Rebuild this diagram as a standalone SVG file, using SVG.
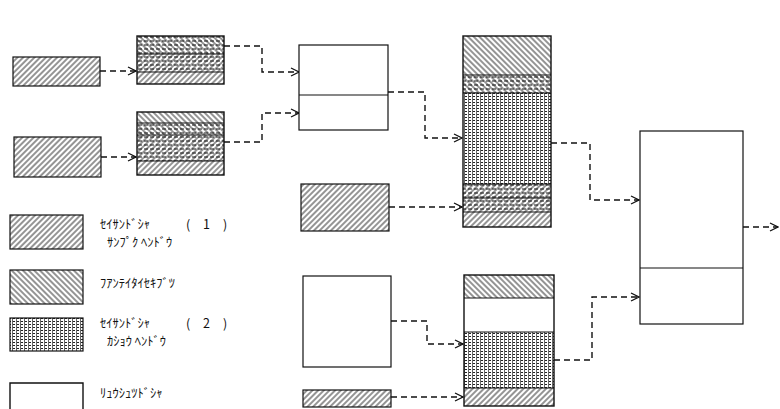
<svg xmlns="http://www.w3.org/2000/svg" width="780" height="409" viewBox="0 0 780 409">
<style>
.b{stroke:#111;stroke-width:1.4;fill:none}
.ln{stroke:#111;stroke-width:1.2}
.c{stroke:#111;stroke-width:1.4;fill:none;stroke-dasharray:6 4;marker-end:url(#ar)}
.t{font-family:"Noto Sans CJK JP","Noto Sans",sans-serif;font-size:12.5px;fill:#111}
</style>
<defs>
<pattern id="h1" width="4" height="4" patternUnits="userSpaceOnUse" patternTransform="rotate(45)"><line x1="1" y1="0" x2="1" y2="4" stroke="#111" stroke-width="0.9"/></pattern>
<pattern id="an" width="4" height="4" patternUnits="userSpaceOnUse" patternTransform="rotate(-45)"><line x1="1" y1="0" x2="1" y2="4" stroke="#111" stroke-width="0.9"/></pattern>
<pattern id="hd" width="6" height="4" patternUnits="userSpaceOnUse"><line x1="0" y1="1" x2="4" y2="1" stroke="#111" stroke-width="1"/></pattern>
<pattern id="gr" width="4" height="3" patternUnits="userSpaceOnUse"><rect x="0" y="0" width="3" height="1" fill="#222"/><rect x="0" y="0" width="1" height="3" fill="#666"/></pattern>
<marker id="ar" viewBox="0 0 10 10" refX="9" refY="5" markerWidth="10" markerHeight="10" markerUnits="userSpaceOnUse" orient="auto"><path d="M1,1 L9,5 L1,9" fill="none" stroke="#111" stroke-width="1.3"/></marker>
</defs>
<rect width="780" height="409" fill="#fff"/>

<g id="connectors">
<path class="c" d="M100,71 H136"/>
<path class="c" d="M101,157 H136"/>
<path class="c" d="M224,46 H262 V72 H299"/>
<path class="c" d="M224,142 H262 V113 H299"/>
<path class="c" d="M388,92 H425 V138 H462"/>
<path class="c" d="M389,207 H462"/>
<path class="c" d="M391,321 H427 V344 H463"/>
<path class="c" d="M391,397 H463"/>
<path class="c" d="M551,143 H590 V200 H639"/>
<path class="c" d="M554,360 H592 V297 H639"/>
<path class="c" d="M743,227 H778"/>
</g>

<g id="s1"><rect x="13" y="57" width="87" height="29" fill="url(#h1)" class="ln"/></g>
<g id="s2"><rect x="14" y="137" width="87" height="40" fill="url(#h1)" class="ln"/></g>

<g id="A">
<rect x="137" y="36" width="87" height="18" fill="url(#an)"/>
<rect x="137" y="36" width="87" height="18" fill="url(#hd)"/>
<rect x="137" y="54" width="87" height="18" fill="url(#h1)"/>
<rect x="137" y="54" width="87" height="18" fill="url(#hd)"/>
<rect x="137" y="72" width="87" height="12" fill="url(#h1)"/>
<line x1="137" y1="54" x2="224" y2="54" class="ln"/>
<line x1="137" y1="72" x2="224" y2="72" class="ln"/>
<rect x="137" y="36" width="87" height="48" class="b"/>
</g>

<g id="B">
<rect x="137" y="112" width="87" height="11" fill="url(#an)"/>
<rect x="137" y="123" width="87" height="12" fill="url(#an)"/>
<rect x="137" y="123" width="87" height="12" fill="url(#hd)"/>
<rect x="137" y="135" width="87" height="26" fill="url(#h1)"/>
<rect x="137" y="135" width="87" height="26" fill="url(#hd)"/>
<rect x="137" y="161" width="87" height="14" fill="url(#h1)"/>
<line x1="137" y1="123" x2="224" y2="123" class="ln"/>
<line x1="137" y1="135" x2="224" y2="135" class="ln"/>
<line x1="137" y1="161" x2="224" y2="161" class="ln"/>
<rect x="137" y="112" width="87" height="63" class="b"/>
</g>

<g id="C">
<rect x="299" y="45" width="89" height="85" fill="#fff" class="ln"/>
<line x1="299" y1="95" x2="388" y2="95" class="ln"/>
</g>

<g id="G"><rect x="301" y="184" width="88" height="47" fill="url(#h1)" class="ln"/></g>
<g id="F"><rect x="303" y="276" width="88" height="91" fill="#fff" class="ln"/></g>
<g id="H"><rect x="303" y="390" width="88" height="17" fill="url(#h1)" class="ln"/></g>

<g id="D">
<rect x="463" y="36" width="88" height="39" fill="url(#an)"/>
<rect x="463" y="75" width="88" height="18" fill="url(#an)"/>
<rect x="463" y="75" width="88" height="18" fill="url(#hd)"/>
<rect x="463" y="93" width="88" height="91" fill="url(#gr)"/>
<rect x="463" y="184" width="88" height="28" fill="url(#h1)"/>
<rect x="463" y="184" width="88" height="28" fill="url(#hd)"/>
<rect x="463" y="212" width="88" height="15" fill="url(#h1)"/>
<line x1="463" y1="75" x2="551" y2="75" class="ln"/>
<line x1="463" y1="93" x2="551" y2="93" class="ln"/>
<line x1="463" y1="184" x2="551" y2="184" class="ln"/>
<line x1="463" y1="198" x2="551" y2="198" class="ln"/>
<line x1="463" y1="212" x2="551" y2="212" class="ln"/>
<rect x="463" y="36" width="88" height="191" class="b"/>
</g>

<g id="D2">
<rect x="464" y="275" width="90" height="23" fill="url(#an)"/>
<rect x="464" y="332" width="90" height="56" fill="url(#gr)"/>
<rect x="464" y="388" width="90" height="18" fill="url(#h1)"/>
<line x1="464" y1="298" x2="554" y2="298" class="ln"/>
<line x1="464" y1="332" x2="554" y2="332" class="ln"/>
<line x1="464" y1="388" x2="554" y2="388" class="ln"/>
<rect x="464" y="275" width="90" height="131" class="b"/>
</g>

<g id="E">
<rect x="640" y="131" width="103" height="193" fill="#fff" class="ln"/>
<line x1="640" y1="268" x2="743" y2="268" class="ln"/>
</g>

<g id="legend1">
<rect x="10" y="215" width="73" height="34" fill="url(#h1)" class="ln"/>
<text class="t" x="100" y="229">ｾｲｻﾝﾄﾞｼｬ<tspan x="186">(</tspan><tspan x="203">1</tspan><tspan x="223">)</tspan></text>
<text class="t" x="107" y="247">ｻﾝﾌﾟｸ ﾍﾝﾄﾞｳ</text>
</g>
<g id="legend2">
<rect x="10" y="270" width="73" height="34" fill="url(#an)" class="ln"/>
<text class="t" x="100" y="288">ﾌｱﾝﾃｲﾀｲｾｷﾌﾞﾂ</text>
</g>
<g id="legend3">
<rect x="10" y="318" width="73" height="33" fill="url(#gr)" class="ln"/>
<text class="t" x="100" y="328">ｾｲｻﾝﾄﾞｼｬ<tspan x="186">(</tspan><tspan x="203">2</tspan><tspan x="223">)</tspan></text>
<text class="t" x="107" y="346">ｶｼｮｳ ﾍﾝﾄﾞｳ</text>
</g>
<g id="legend4">
<path d="M10,409 V383 H83 V409" class="b"/>
<text class="t" x="100" y="398">ﾘｭｳｼｭﾂﾄﾞｼｬ</text>
</g>
</svg>
